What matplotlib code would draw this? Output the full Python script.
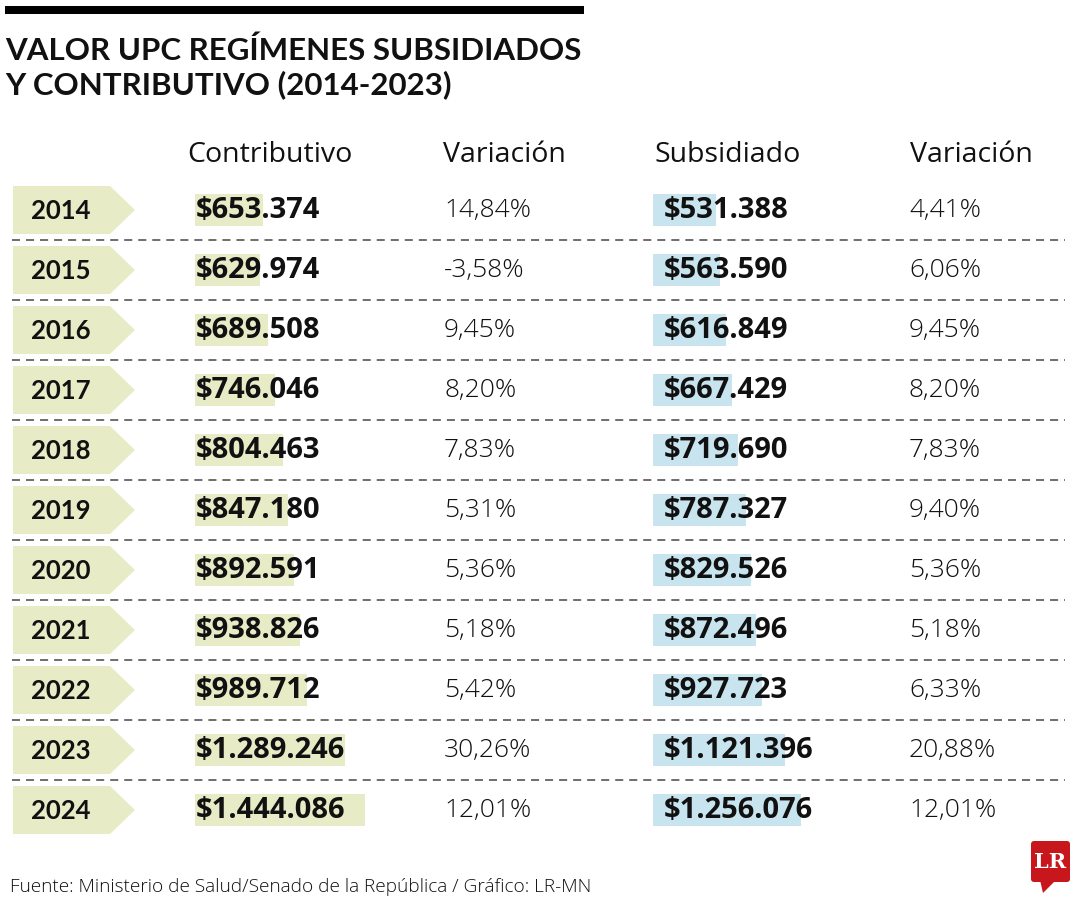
import matplotlib
matplotlib.use('Agg')
import matplotlib.pyplot as plt
from matplotlib.patches import Polygon, Rectangle, FancyBboxPatch

years = ['2014', '2015', '2016', '2017', '2018', '2019', '2020', '2021', '2022', '2023', '2024']
contributivo = [653374, 629974, 689508, 746046, 804463, 847180, 892591, 938826, 989712, 1289246, 1444086]
var_contributivo = ['14,84%', '-3,58%', '9,45%', '8,20%', '7,83%', '5,31%', '5,36%', '5,18%', '5,42%', '30,26%', '12,01%']
subsidiado = [531388, 563590, 616849, 667429, 719690, 787327, 829526, 872496, 927723, 1121396, 1256076]
var_subsidiado = ['4,41%', '6,06%', '9,45%', '8,20%', '7,83%', '9,40%', '5,36%', '5,18%', '6,33%', '20,88%', '12,01%']
headers = ['Contributivo', 'Variación', 'Subsidiado', 'Variación']

title_lines = ['VALOR UPC REGÍMENES SUBSIDIADOS', 'Y CONTRIBUTIVO (2014-2023)']
source = 'Fuente: Ministerio de Salud/Senado de la República / Gráfico: LR-MN'

W, H = 1080, 900
GREEN = '#e8ecc6'
BLUE = '#c8e4ee'
plt.rcParams['lines.scale_dashes'] = False

fig = plt.figure(figsize=(W / 100, H / 100), dpi=100)
fig.patch.set_facecolor('white')

row_y = [210 + 60 * i for i in range(len(years))]


def money(v):
    return '$' + f'{v:,}'.replace(',', '.')


# bar columns, each in its own axes (pixel rows on y, values on x)
bar_c = fig.add_axes([195 / W, 0, 220 / W, 1])
bar_c.set_ylim(H, 0)
bar_c.set_xlim(124000, 124000 + 220 / 0.129 * 1000)
bar_c.barh(row_y, contributivo, height=32, color=GREEN)
bar_c.axis('off')

bar_s = fig.add_axes([653 / W, 0, 220 / W, 1])
bar_s.set_ylim(H, 0)
bar_s.set_xlim(0, 220 / 0.118 * 1000)
bar_s.barh(row_y, subsidiado, height=32, color=BLUE)
bar_s.axis('off')

# main layer in pixel coordinates
ax = fig.add_axes([0, 0, 1, 1])
ax.set_xlim(0, W)
ax.set_ylim(H, 0)
ax.axis('off')

# top rule and title
ax.add_patch(Rectangle((5, 6), 579, 8, color='black', lw=0))
ax.text(5, 60, title_lines[0], fontsize=22.5, fontweight='bold', family='Lato', color='#111111')
ax.text(5, 94, title_lines[1], fontsize=22.5, fontweight='bold', family='Lato', color='#111111')

# column headers
for x, h in zip([187, 443, 654, 910], headers):
    ax.text(x, 162, h, fontsize=20.5, family='Open Sans', color='#111111')

for i, y in enumerate(row_y):
    # year tag
    ax.add_patch(Polygon([(13, y - 24), (110, y - 24), (135, y), (110, y + 24), (13, y + 24)],
                         closed=True, color=GREEN, lw=0))
    ax.text(31, y + 1, years[i], fontsize=18.5, fontweight='bold', family='Lato',
            va='center', color='#111111')

    ax.text(196, y + 1, money(contributivo[i]), fontsize=21, fontweight='bold',
            family='Open Sans', va='center', color='#111111')
    ax.text(444, y + 1, var_contributivo[i], fontsize=19, fontweight='light',
            family='Open Sans', va='center', color='#111111')
    ax.text(664, y + 1, money(subsidiado[i]), fontsize=21, fontweight='bold',
            family='Open Sans', va='center', color='#111111')
    ax.text(909, y + 1, var_subsidiado[i], fontsize=19, fontweight='light',
            family='Open Sans', va='center', color='#111111')

    if i < len(years) - 1:
        line, = ax.plot([12, 1065], [y + 30, y + 30], color='#555555', lw=1.2)
        line.set_dashes((5.8, 4.3))

# footer
ax.text(10, 892, source, fontsize=13.7, fontweight='light', family='Open Sans', color='#111111')

# LR logo
ax.add_patch(FancyBboxPatch((1031, 841), 39, 41, boxstyle='round,pad=0,rounding_size=3',
                            color='#c8161d', lw=0))
ax.add_patch(Polygon([(1040, 880), (1056, 880), (1043, 893)], closed=True, color='#c8161d', lw=0))
ax.text(1050.5, 862, 'LR', fontsize=15, fontweight='bold', family='DejaVu Serif',
        color='white', ha='center', va='center')

fig.savefig('out.png', dpi=100, facecolor='white')
